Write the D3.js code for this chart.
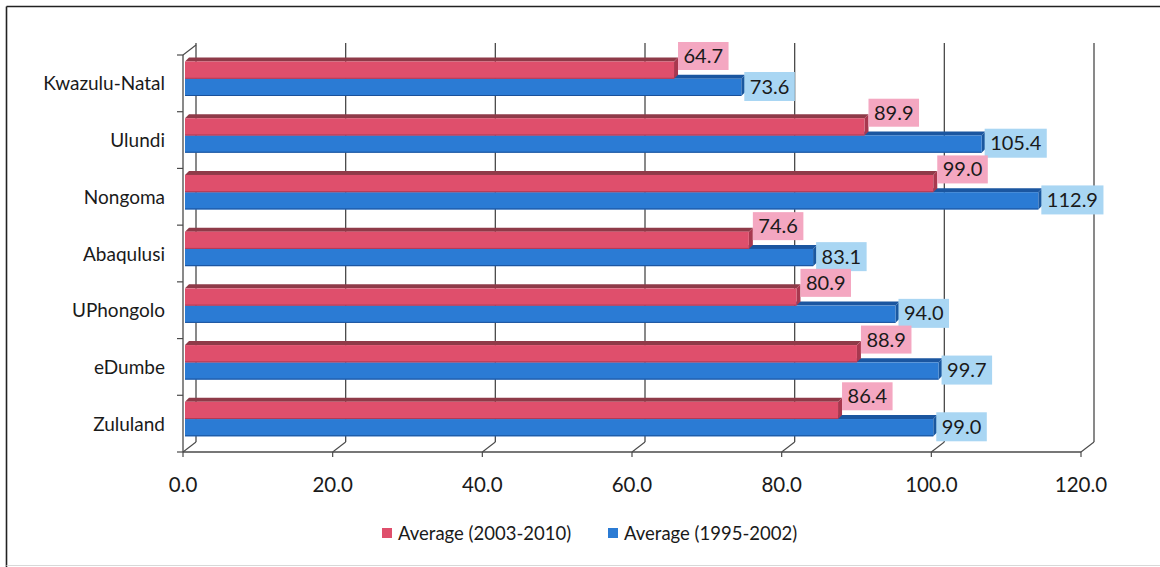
<!DOCTYPE html>
<html>
<head>
<meta charset="utf-8">
<script src="https://cdn.jsdelivr.net/npm/d3@7"></script>
<style>
  html, body { margin: 0; padding: 0; background: #ffffff; }
  svg { display: block; font-family: Lato, "Open Sans", sans-serif; }
</style>
</head>
<body>
<svg id="chart" width="1160" height="567"></svg>
<script>
// Municipalities, top to bottom
const categories = ["Kwazulu-Natal", "Ulundi", "Nongoma", "Abaqulusi", "UPhongolo", "eDumbe", "Zululand"];
// Series values
const avg2003_2010 = [64.7, 89.9, 99.0, 74.6, 80.9, 88.9, 86.4];
const avg1995_2002 = [73.6, 105.4, 112.9, 83.1, 94.0, 99.7, 99.0];
const seriesNames = ["Average (2003-2010)", "Average (1995-2002)"];
const xTicks = [0, 20, 40, 60, 80, 100, 120];

const svg = d3.select("#chart");

// Outer frame
svg.append("line").attr("x1", 6.5).attr("x2", 1160).attr("y1", 6.5).attr("y2", 6.5)
  .attr("stroke", "#222").attr("stroke-width", 1.6);
svg.append("line").attr("x1", 6.5).attr("x2", 6.5).attr("y1", 6.5).attr("y2", 567)
  .attr("stroke", "#222").attr("stroke-width", 1.6);
svg.append("line").attr("x1", 6.5).attr("x2", 1160).attr("y1", 565.5).attr("y2", 565.5)
  .attr("stroke", "#d8d8d8").attr("stroke-width", 1);

// Scales: front floor edge, back wall (depth offset), and bars
const depthX = 13, depthY = -10;
const x = d3.scaleLinear().domain([0, 120]).range([183, 1081]);
const xBar = d3.scaleLinear().domain([0, 120]).range([185, 1092]);
const y = d3.scaleBand().domain(categories).range([55, 452]);
const ySub = d3.scaleBand().domain(seriesNames).range([6.5, 41]);

const gridColor = "#4a4a4a";
const g = svg.append("g");

// Back wall gridlines
g.selectAll("line.grid").data(xTicks).join("line")
  .attr("x1", d => x(d) + depthX).attr("x2", d => x(d) + depthX)
  .attr("y1", 452 + depthY - 400 + 1).attr("y2", 452 + depthY)
  .attr("stroke", gridColor).attr("stroke-width", 1.3);

// Floor: front edge and depth diagonals
g.append("line").attr("x1", x(0)).attr("x2", x(120)).attr("y1", 452).attr("y2", 452)
  .attr("stroke", gridColor).attr("stroke-width", 1.3);
g.selectAll("line.floor").data(xTicks).join("line")
  .attr("x1", d => x(d)).attr("x2", d => x(d) + depthX)
  .attr("y1", 452).attr("y2", 452 + depthY)
  .attr("stroke", gridColor).attr("stroke-width", 1.1);
// Tick marks below floor edge
g.selectAll("line.xtick").data(xTicks).join("line")
  .attr("x1", d => x(d)).attr("x2", d => x(d))
  .attr("y1", 452).attr("y2", 457)
  .attr("stroke", gridColor).attr("stroke-width", 1.2);

// Left wall: category axis with ticks, top diagonal
g.append("line").attr("x1", 183).attr("x2", 183).attr("y1", y.range()[0]).attr("y2", 452)
  .attr("stroke", gridColor).attr("stroke-width", 1.3);
const bounds = categories.map(c => y(c)).concat([y.range()[1]]);
g.selectAll("line.ytick").data(bounds).join("line")
  .attr("x1", 177).attr("x2", 183).attr("y1", d => d).attr("y2", d => d)
  .attr("stroke", gridColor).attr("stroke-width", 1.2);
g.append("line").attr("x1", 183).attr("y1", y.range()[0])
  .attr("x2", 183 + depthX).attr("y2", y.range()[0] + depthY)
  .attr("stroke", gridColor).attr("stroke-width", 1.1);

// Category labels
svg.selectAll("text.cat").data(categories).join("text")
  .attr("x", 165).attr("y", d => y(d) + y.bandwidth() / 2 + 7)
  .attr("text-anchor", "end").attr("font-size", 19).attr("fill", "#1a1a1a")
  .text(d => d);

// Axis tick labels
svg.selectAll("text.xlab").data(xTicks).join("text")
  .attr("x", d => x(d)).attr("y", 492)
  .attr("text-anchor", "middle").attr("font-size", 20.5).attr("fill", "#1a1a1a")
  .text(d => d.toFixed(1));

// 3D bar drawing
const bd = { dx: 4, dy: -4 };
const styles = {
  [seriesNames[0]]: { front: "#df4f6c", top: "#8e3a48", side: "#a8384f", edge: "#b03b55", label: "#f4a7c1" },
  [seriesNames[1]]: { front: "#2b7bd4", top: "#1b56a0", side: "#1b589f", edge: "#1a519a", label: "#a9d6f3" }
};
const bars = [];
categories.forEach((c, i) => {
  bars.push({ cat: c, s: seriesNames[1], v: avg1995_2002[i] });
  bars.push({ cat: c, s: seriesNames[0], v: avg2003_2010[i] });
});
const barG = svg.append("g");
bars.forEach(b => {
  const st = styles[b.s];
  const x0 = xBar(0), x1 = xBar(b.v);
  const t = y(b.cat) + ySub(b.s), h = ySub.bandwidth();
  // top face
  barG.append("path")
    .attr("d", `M${x0},${t} L${x0 + bd.dx},${t + bd.dy} L${x1 + bd.dx},${t + bd.dy} L${x1},${t} Z`)
    .attr("fill", st.top);
  // right end face
  barG.append("path")
    .attr("d", `M${x1},${t} L${x1 + bd.dx},${t + bd.dy} L${x1 + bd.dx},${t + h + bd.dy} L${x1},${t + h} Z`)
    .attr("fill", st.side);
  // front face
  barG.append("rect").attr("x", x0).attr("y", t).attr("width", x1 - x0).attr("height", h)
    .attr("fill", st.front);
  barG.append("line").attr("x1", x0).attr("x2", x1).attr("y1", t + h - 0.5).attr("y2", t + h - 0.5)
    .attr("stroke", st.edge).attr("stroke-width", 1);
});

// Value labels: box sized to its text
const labG = svg.append("g");
bars.forEach(b => {
  const st = styles[b.s];
  const isRed = b.s === seriesNames[0];
  const txt = b.v.toFixed(1);
  const left = xBar(b.v) + (isRed ? 4 : 3);
  const top = y(b.cat) + (isRed ? -13 : 17);
  const h = isRed ? 28 : 29;
  const box = labG.append("rect").attr("x", left).attr("y", top).attr("height", h)
    .attr("fill", st.label);
  const t = labG.append("text").attr("y", top + h / 2 + 7)
    .attr("text-anchor", "middle").attr("font-size", 20).attr("fill", "#1a1a1a")
    .text(txt);
  const w = t.node().getComputedTextLength() + 11;
  box.attr("width", w);
  t.attr("x", left + w / 2);
});

// Legend
const legend = svg.append("g");
const legendItems = [
  { name: seriesNames[0], x: 382 },
  { name: seriesNames[1], x: 608 }
];
legendItems.forEach(it => {
  legend.append("rect").attr("x", it.x).attr("y", 528).attr("width", 10).attr("height", 10)
    .attr("fill", styles[it.name].front);
  legend.append("text").attr("x", it.x + 16).attr("y", 540)
    .attr("font-size", 18.5).attr("fill", "#1a1a1a").text(it.name);
});
</script>
</body>
</html>
